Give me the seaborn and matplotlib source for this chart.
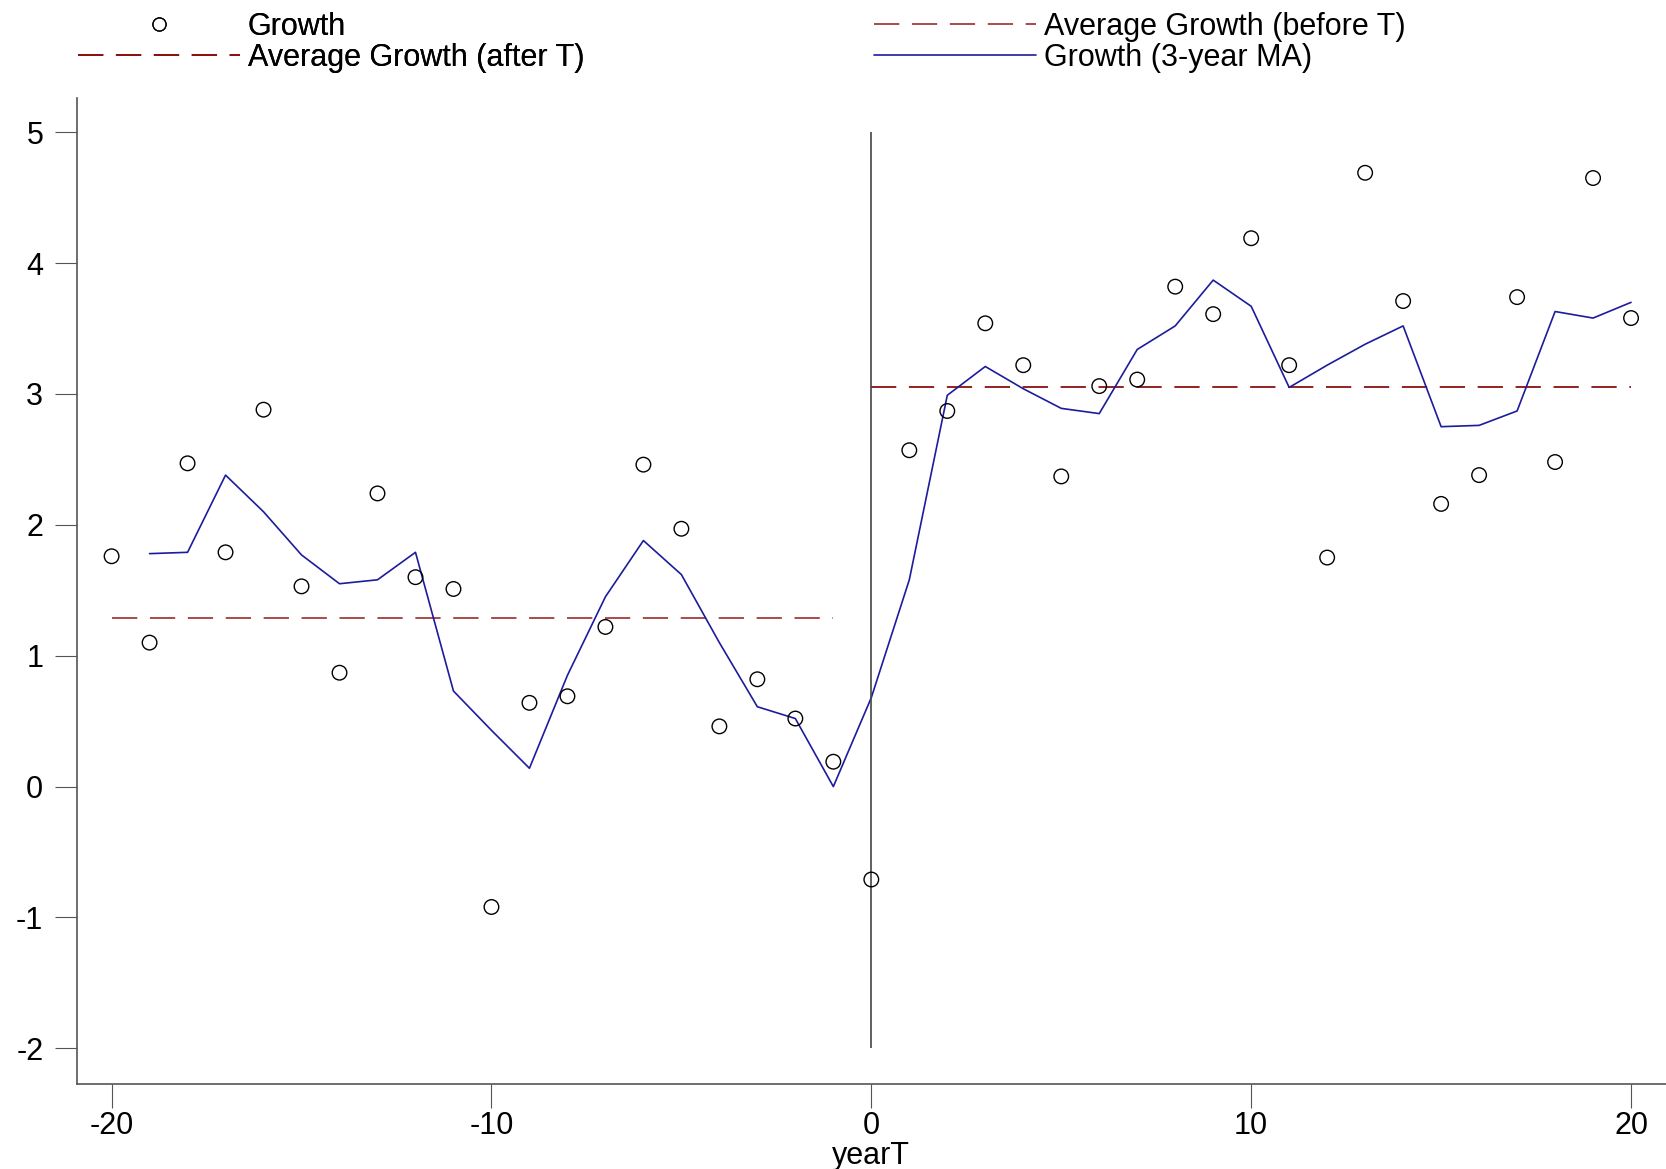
import numpy as np
import pandas as pd
import matplotlib
matplotlib.use('Agg')
import matplotlib.pyplot as plt
from matplotlib.lines import Line2D
import seaborn as sns

# data
years = list(range(-20, 21))
growth = [1.76, 1.10, 2.47, 1.79, 2.88, 1.53, 0.87, 2.24, 1.60, 1.51,
          -0.92, 0.64, 0.69, 1.22, 2.46, 1.97, 0.46, 0.82, 0.52, 0.19,
          -0.71, 2.57, 2.87, 3.54, 3.22, 2.37, 3.06, 3.11, 3.82, 3.61,
          4.19, 3.22, 1.75, 4.69, 3.71, 2.16, 2.38, 3.74, 2.48, 4.65, 3.58]
ma_years = list(range(-19, 21))
growth_ma = [1.78, 1.79, 2.38, 2.10, 1.77, 1.55, 1.58, 1.79, 0.73,
             0.43, 0.14, 0.85, 1.45, 1.88, 1.62, 1.10, 0.61, 0.52, 0.00,
             0.68, 1.58, 2.99, 3.21, 3.04, 2.89, 2.85, 3.34, 3.52, 3.87,
             3.67, 3.05, 3.22, 3.38, 3.52, 2.75, 2.76, 2.87, 3.63, 3.58, 3.70]
avg_before = 1.29
avg_after = 3.05
before_years = [-20, -1]
after_years = [0, 20]

df = pd.DataFrame({'yearT': years, 'growth': growth})
df_ma = pd.DataFrame({'yearT': ma_years, 'growth_ma': growth_ma})
df_before = pd.DataFrame({'yearT': before_years, 'avg': [avg_before] * 2})
df_after = pd.DataFrame({'yearT': after_years, 'avg': [avg_after] * 2})

sns.set_style('white')
plt.rcParams['font.family'] = ['Liberation Sans', 'DejaVu Sans']
plt.rcParams['axes.unicode_minus'] = False
plt.rcParams['text.color'] = 'black'
plt.rcParams['axes.labelcolor'] = 'black'
plt.rcParams['xtick.color'] = 'black'
plt.rcParams['ytick.color'] = 'black'

red_before = '#a23b3b'
red_after = '#8b1010'
navy = '#1c1c9c'
dash = (0, (14, 7))
fs = 22

fig = plt.figure(figsize=(16.66, 11.69), dpi=100)
ax = fig.add_axes([0.046, 0.073, 0.954, 0.843])

sns.lineplot(data=df_before, x='yearT', y='avg', ax=ax, color=red_before,
             linewidth=1.3, linestyle=dash)
sns.lineplot(data=df_after, x='yearT', y='avg', ax=ax, color=red_after,
             linewidth=1.3, linestyle=dash)
sns.lineplot(data=df_ma, x='yearT', y='growth_ma', ax=ax, color=navy,
             linewidth=1.2)
sns.scatterplot(data=df, x='yearT', y='growth', ax=ax, marker='o', s=110,
                facecolor='none', edgecolor='black', linewidth=1.0, zorder=3)
ax.vlines(0, -2, 5, color='#444444', linewidth=1.2)

ax.set_xlim(-20.92, 20.92)
ax.set_ylim(-2.27, 5.26)
ax.set_xticks([-20, -10, 0, 10, 20])
ax.set_yticks([-2, -1, 0, 1, 2, 3, 4, 5])
ax.set_xlabel('yearT', fontsize=fs, labelpad=0)
ax.set_ylabel('')
for side in ['top', 'right']:
    ax.spines[side].set_visible(False)
for side in ['left', 'bottom']:
    ax.spines[side].set_color('#555555')
    ax.spines[side].set_linewidth(1.2)
ax.tick_params(axis='y', direction='out', length=16, width=0.8, color='#555555',
               labelcolor='black', labelsize=fs, pad=8, left=True)
ax.tick_params(axis='x', direction='out', length=17, width=0.8, color='#555555',
               labelcolor='black', labelsize=fs, pad=3, bottom=True)

# legend in two blocks at top
h_growth = Line2D([], [], linestyle='none', marker='o', markersize=9.5,
                  markerfacecolor='none', markeredgecolor='black', markeredgewidth=0.9)
h_after = Line2D([], [], color=red_after, linewidth=1.3, linestyle=dash)
h_before = Line2D([], [], color=red_before, linewidth=1.3, linestyle=dash)
h_ma = Line2D([], [], color=navy, linewidth=1.2)

leg_kw = dict(loc='upper left', frameon=False, fontsize=fs, handlelength=5.3,
              handletextpad=0.25, labelspacing=0.02, borderpad=0.2)
leg1 = fig.legend([h_growth, h_after], ['Growth', 'Average Growth (after T)'],
                  bbox_to_anchor=(0.034, 1.008), **leg_kw)
fig.add_artist(leg1)
fig.legend([h_before, h_ma], ['Average Growth (before T)', 'Growth (3-year MA)'],
           bbox_to_anchor=(0.512, 1.008), **leg_kw)

plt.savefig('out.png', dpi=100)
